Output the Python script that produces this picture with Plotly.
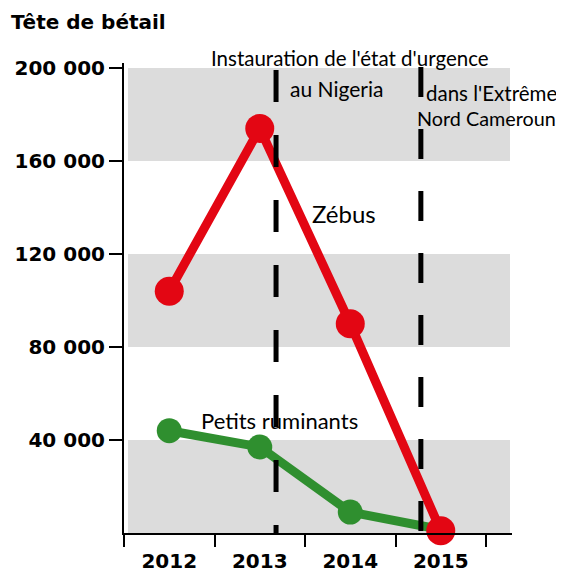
import plotly.graph_objects as go

# ---- data ----
years = ["2012", "2013", "2014", "2015"]
zebus = [104000, 174000, 90000, 1000]
petits_ruminants = [44000, 37000, 9000, 1500]
y_tick_vals = [40000, 80000, 120000, 160000, 200000]
y_tick_text = ["40 000", "80 000", "120 000", "160 000", "200 000"]
band_ranges = [(0, 40000), (80000, 120000), (160000, 200000)]
event_x = [1.18, 2.78]  # state of emergency (Nigeria, Far North Cameroon)

# ---- layout geometry (pixels); page body has an 8px margin ----
OFF = 8
W, H = 564 - OFF, 574 - OFF
L, R, T, B = 124 - OFF, 52, 63 - OFF, 41
pw, ph = W - L - R, H - T - B

def px(x, y):
    return (x - OFF - L) / pw, (H - B - (y - OFF)) / ph

xpos = list(range(len(years)))
RED = "#e30613"
GREEN = "#2f8f2f"
FONT = "Lato"
BOLD = "DejaVu Sans"

fig = go.Figure()
fig.add_trace(go.Scatter(x=xpos, y=petits_ruminants, mode="lines+markers",
                         line=dict(color=GREEN, width=9),
                         marker=dict(color=GREEN, size=25),
                         cliponaxis=False, showlegend=False, hoverinfo="skip"))
fig.add_trace(go.Scatter(x=xpos, y=zebus, mode="lines+markers",
                         line=dict(color=RED, width=9),
                         marker=dict(color=RED, size=29),
                         cliponaxis=False, showlegend=False, hoverinfo="skip"))

shapes = []
for lo, hi in band_ranges:
    shapes.append(dict(type="rect", xref="x", yref="y", x0=-0.456, x1=3.765,
                       y0=lo, y1=hi, fillcolor="#dcdcdc", line=dict(width=0),
                       layer="below"))
shapes.append(dict(type="line", xref="x", yref="y", x0=event_x[0], x1=event_x[0],
                   y0=199100, y1=-900, line=dict(color="black", width=5, dash="32px,33px")))
shapes.append(dict(type="line", xref="x", yref="y", x0=event_x[1], x1=event_x[1],
                   y0=200400, y1=0, line=dict(color="black", width=5, dash="30px,32px")))

annotations = []
def add_text(text, x, y, size=17, bold=False, xanchor="center", family=FONT):
    ax, ay = px(x, y)
    annotations.append(dict(text=f"<b>{text}</b>" if bold else text, x=ax, y=ay,
                            xref="paper", yref="paper", showarrow=False,
                            xanchor=xanchor, yanchor="middle",
                            font=dict(family=family, size=size, color="black")))

add_text("Tête de bétail", 9, 22, size=20, bold=True, xanchor="left", family=BOLD)
add_text("Instauration de l'état d'urgence", 350, 58, size=20.5)
add_text("au Nigeria", 288, 88, size=21, xanchor="left")
add_text("dans l'Extrême", 424, 93, size=20.5, xanchor="left")
add_text("Nord Cameroun", 415, 118, size=19.8, xanchor="left")
add_text("Zébus", 344, 214, size=24)
add_text("Petits ruminants", 279, 420, size=22)

fig.update_layout(
    width=W, height=H,
    margin=dict(l=L, r=R, t=T, b=B, pad=0),
    paper_bgcolor="white", plot_bgcolor="white",
    shapes=shapes, annotations=annotations,
    xaxis=dict(range=[-0.5, 3.787], tickvals=xpos, ticktext=years,
               ticks="outside", ticklen=9, tickcolor="rgba(0,0,0,0)",
               showgrid=False, zeroline=False, showline=True,
               linecolor="black", linewidth=2, automargin=False,
               tickfont=dict(family=BOLD, size=20, color="black", weight="bold"),
               minor=dict(tickvals=[-0.5, 0.5, 1.5, 2.5, 3.5], ticks="outside",
                          ticklen=12, tickwidth=2, tickcolor="black", showgrid=False),
               fixedrange=True),
    yaxis=dict(range=[0, 202150], tickvals=y_tick_vals, ticktext=y_tick_text,
               ticks="outside", ticklen=13, tickwidth=2, tickcolor="black",
               showgrid=False, zeroline=False, showline=True,
               linecolor="black", linewidth=2, automargin=False,
               tickfont=dict(family=BOLD, size=20, color="black", weight="bold"),
               fixedrange=True),
)

fig.write_html("out.html")
